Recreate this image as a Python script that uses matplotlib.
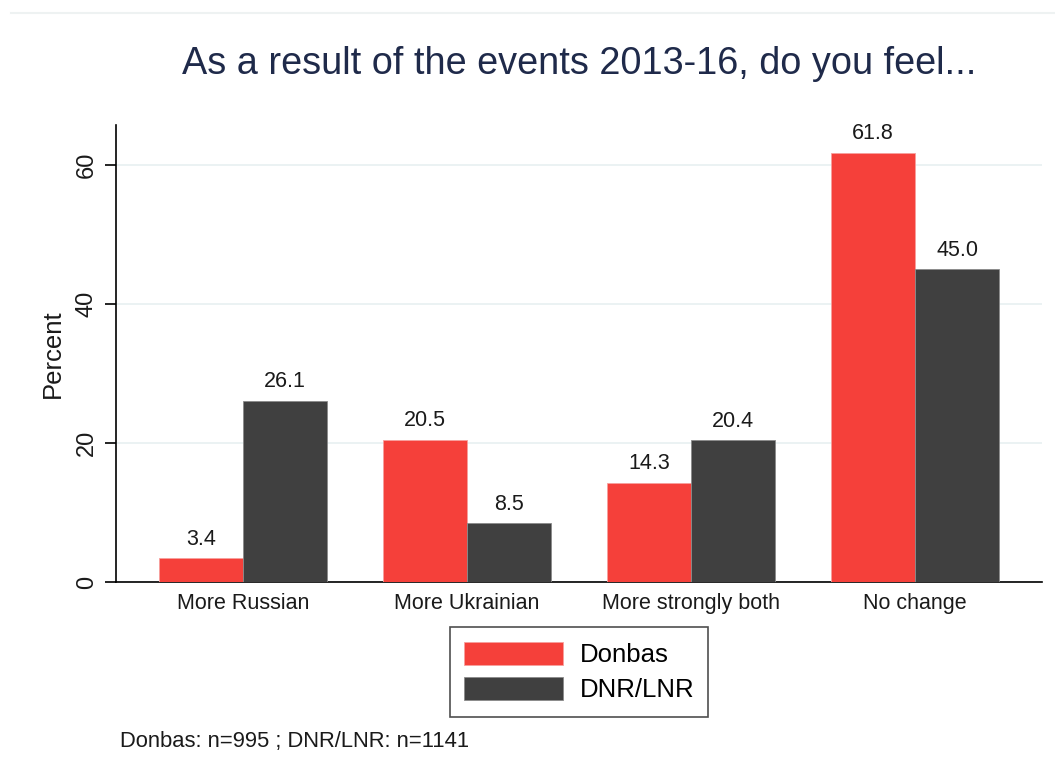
import numpy as np
import matplotlib.pyplot as plt
from matplotlib.lines import Line2D

plt.rcParams['font.family'] = ['Liberation Sans', 'DejaVu Sans']

# data
categories = ['More Russian', 'More Ukrainian', 'More strongly both', 'No change']
donbas = [3.4, 20.5, 14.3, 61.8]
dnr_lnr = [26.1, 8.5, 20.4, 45.0]
series_names = ['Donbas', 'DNR/LNR']
note = 'Donbas: n=995 ; DNR/LNR: n=1141'

red = '#F5403A'
dark = '#404040'
txt = '#1a1a1a'

fig = plt.figure(figsize=(10.55, 7.76), dpi=100)
ax = fig.add_axes([0.110, 0.25, 0.8777, 0.589])

x = np.arange(len(categories))
w = 0.375
b1 = ax.bar(x - w / 2, donbas, w, color=red, edgecolor='#f7a09c', linewidth=0.6, label=series_names[0], zorder=3)
b2 = ax.bar(x + w / 2, dnr_lnr, w, color=dark, edgecolor='#8a8a8a', linewidth=0.6, label=series_names[1], zorder=3)

for bars, vals in [(b1, donbas), (b2, dnr_lnr)]:
    for r, v in zip(bars, vals):
        ax.annotate(f'{v:.1f}', (r.get_x() + r.get_width() / 2, v), xytext=(0, 6),
                    textcoords='offset points', ha='center', va='bottom', fontsize=15.5, color=txt)

ax.set_xlim(-0.567, 3.567)
ax.set_ylim(0, 65.8)
ax.set_yticks([0, 20, 40, 60])
ax.set_yticklabels(['0', '20', '40', '60'], rotation=90, va='center', fontsize=17, color=txt)
ax.set_xticks(x)
ax.set_xticklabels(categories, fontsize=15.5, color=txt)
ax.tick_params(axis='y', length=8, width=1.2, pad=5)
ax.tick_params(axis='x', length=0, pad=8)
ax.set_ylabel('Percent', fontsize=18.5, color=txt, labelpad=8)

ax.grid(axis='y', color='#e8f0f1', linewidth=1.2, zorder=0)
ax.set_axisbelow(True)
for s in ['top', 'right']:
    ax.spines[s].set_visible(False)
ax.spines['left'].set_linewidth(1.2)
ax.spines['bottom'].set_linewidth(1.2)

fig.text(0.549, 0.918, 'As a result of the events 2013-16, do you feel...', ha='center', va='center',
         fontsize=27.3, color='#1f2a4a')

leg = fig.legend(handles=[b1, b2], labels=series_names, loc='center',
                 bbox_to_anchor=(0.549, 0.134), bbox_transform=fig.transFigure,
                 fontsize=18.5, frameon=True, fancybox=False, edgecolor='#222222',
                 handlelength=3.85, handleheight=1.0, handletextpad=0.65, borderpad=0.55, labelspacing=0.4)
leg.get_frame().set_linewidth(1.2)

fig.text(0.114, 0.045, note, ha='left', va='center', fontsize=15.8, color=txt)

fig.add_artist(Line2D([0.01, 1.0], [0.983, 0.983], color='#eef2f2', linewidth=1.5, transform=fig.transFigure))

fig.savefig('out.png', dpi=100, facecolor='white')
